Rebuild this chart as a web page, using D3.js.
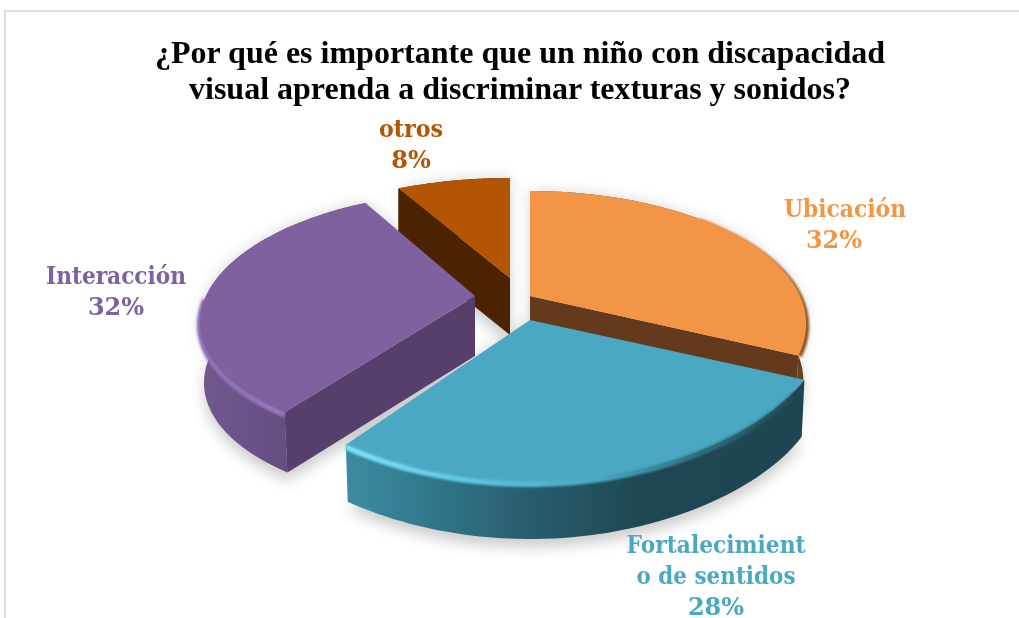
<!DOCTYPE html>
<html><head><meta charset="utf-8">
<script src="https://cdn.jsdelivr.net/npm/d3@7/dist/d3.min.js"></script>
<style>html,body{margin:0;padding:0;background:#fff}svg{display:block}</style>
</head><body><svg id="c" width="1019" height="618"></svg>
<script>
const categories = ["Ubicación","Fortalecimiento de sentidos","Interacción","otros"];
const values = [32,28,32,8];
const titleLines = ["¿Por qué es importante que un niño con discapacidad","visual aprenda a discriminar texturas y sonidos?"];
const labelLines = [["Ubicación","32%"],["Fortalecimient","o de sentidos","28%"],["Interacción","32%"],["otros","8%"]];

// styling & layout, separate from the data
const topCol=["#f39546","#4aa8c3","#7e619e","#b45504"];
const cutCol=["#653a1c","#1e4651","#563f6b","#4c2300"];
const apex=[[530,296],[530,320],[475,296],[510,278]];
const rx=[270,293,269,274], ry=[127,128,123,121];
const kx=[0.21,0.08,0.21,0.21], ky=[0.21,0.21,0.18,0.21];
const baseScale=[0.99,0.99,0.985,1];
const wallH=[57,57,60,57];
const rimRange=[[0.8,2.0],[2.1,3.77],[3.77,4.7],null];
const labelPos=[[[845,217,122],[834,248,0]],[[716,553,179],[716,584,159],[716,615,0]],[[116,284,140],[116,315,0]],[[411,137,64],[411,168,0]]];
const wallStops=[
 [[530,"#7a4a1e"],[805,"#6b3f1c"]],
 [[345,"#3d8ca3"],[420,"#327a8f"],[520,"#295f70"],[640,"#1f4753"],[805,"#1e4651"]],
 [[197,"#71588f"],[285,"#664d82"]],
 [[398,"#4c2300"],[511,"#4c2300"]]];
const rimStops=[
 [[690,"#f39546"],[760,"#d08240"],[790,"#a86a2c"],[808,"#8a5522"]],
 [[345,"#7fe0f8"],[480,"#5cc4df"],[600,"#4aa8c3"],[700,"#30707f"],[805,"#1e4651"]],
 [[197,"#8d6fb4"],[290,"#957ac0"]],
 [[398,"#b45504"],[511,"#b45504"]]];

const svg=d3.select("#c"), defs=svg.append("defs");
const blur=defs.append("filter").attr("id","sh").attr("x","-20%").attr("y","-20%").attr("width","140%").attr("height","140%");
blur.append("feGaussianBlur").attr("stdDeviation",7);
const soft=defs.append("filter").attr("id","soft").attr("filterUnits","userSpaceOnUse").attr("x",0).attr("y",0).attr("width",1019).attr("height",618);
soft.append("feGaussianBlur").attr("stdDeviation",1.1);

function grad(id,stops){
  const g=defs.append("linearGradient").attr("id",id).attr("gradientUnits","userSpaceOnUse")
   .attr("x1",stops[0][0]).attr("x2",stops[stops.length-1][0]).attr("y1",0).attr("y2",0);
  const x0=stops[0][0],w=stops[stops.length-1][0]-x0;
  stops.forEach(s=>g.append("stop").attr("offset",(s[0]-x0)/w).attr("stop-color",s[1]));
}
wallStops.forEach((s,i)=>grad("w"+i,s));
rimStops.forEach((s,i)=>grad("r"+i,s));

// frame
svg.append("path").attr("d","M5,618V11H1019").attr("fill","none").attr("stroke","#dedede").attr("stroke-width",2);

const pie=d3.pie().sort(null).startAngle(0).endAngle(2*Math.PI)(values);
const line=d3.line();
const project=(i,a,f,z)=>{
  const c=Math.cos(a), b=z>=wallH[i]?baseScale[i]:1;
  return [apex[i][0]+b*rx[i]*f*Math.sin(a)/(1+kx[i]*c*f), apex[i][1]-ry[i]*f*c/(1+ky[i]*c*f)+z];
};
const arcPts=(i,a0,a1,z)=>d3.range(0,61).map(t=>project(i,a0+(a1-a0)*t/60,1,z));
const rim=(i,d,z)=>arcPts(i,d.startAngle,d.endAngle,z);
const face=(i,d,z)=>[[apex[i][0],apex[i][1]+z],...rim(i,d,z)];

const shadow=svg.append("g").attr("filter","url(#sh)").attr("opacity",0.3);
pie.forEach((d,i)=>{
  shadow.append("path").attr("d",line(face(i,d,wallH[i]))+"Z").attr("transform","translate(0,8)").attr("fill","#555");
  shadow.append("path").attr("d",line(face(i,d,0))+"Z").attr("fill","#777");
});

[3,0,2,1].forEach(i=>{
  const d=pie[i], g=svg.append("g"), H=wallH[i];
  // outer wall
  g.append("path").attr("d",line([...rim(i,d,0),...rim(i,d,H).reverse()])+"Z").attr("fill",`url(#w${i})`);
  // cut faces that look towards the viewer
  [[d.startAngle,Math.sin(d.startAngle)<-1e-6],[d.endAngle,Math.sin(d.endAngle)>1e-6]].forEach(([a,vis])=>{
    if(!vis) return;
    const p=project(i,a,1,0),q=project(i,a,1,H);
    g.append("path").attr("d",line([apex[i],p,q,[apex[i][0],apex[i][1]+H]])+"Z").attr("fill",cutCol[i]);
  });
  // bevel band sits just under the rim, then the top face covers its upper half
  if(rimRange[i]){
    const [a0,a1]=rimRange[i];
    g.append("path").attr("d",line(arcPts(i,Math.max(a0,d.startAngle),Math.min(a1,d.endAngle),2))).attr("fill","none")
     .attr("stroke",`url(#r${i})`).attr("stroke-width",6).attr("filter","url(#soft)");
  }
  g.append("path").attr("d",line(face(i,d,0))+"Z").attr("fill",topCol[i]);
  if(i===1){
    const [a0,a1]=rimRange[i];
    g.append("path").attr("d",line(arcPts(i,Math.max(a0,d.startAngle),Math.min(a1,d.endAngle),0))).attr("fill","none")
     .attr("stroke",`url(#r${i})`).attr("stroke-width",2).attr("opacity",0.7).attr("filter","url(#soft)");
  }
});

// title
const serif="'Liberation Serif','Times New Roman',serif";
svg.selectAll(".t").data(titleLines).join("text").attr("class","t")
  .attr("x",520).attr("y",(d,i)=>63+i*36).attr("text-anchor","middle")
  .attr("font-family",serif).attr("font-weight","bold").attr("font-size",32).attr("fill","#000").text(d=>d);

// labels
labelLines.forEach((ls,i)=>ls.forEach((t,j)=>{
  const p=labelPos[i][j];
  svg.append("text").attr("x",p[0]).attr("y",p[1]).attr("text-anchor","middle")
   .attr("font-family","'DejaVu Serif',serif").attr("font-weight","bold").attr("font-size",24)
   .attr("fill",topCol[i]).attr("textLength",p[2]||null).attr("lengthAdjust","spacingAndGlyphs").text(t);
}));
</script></body></html>
